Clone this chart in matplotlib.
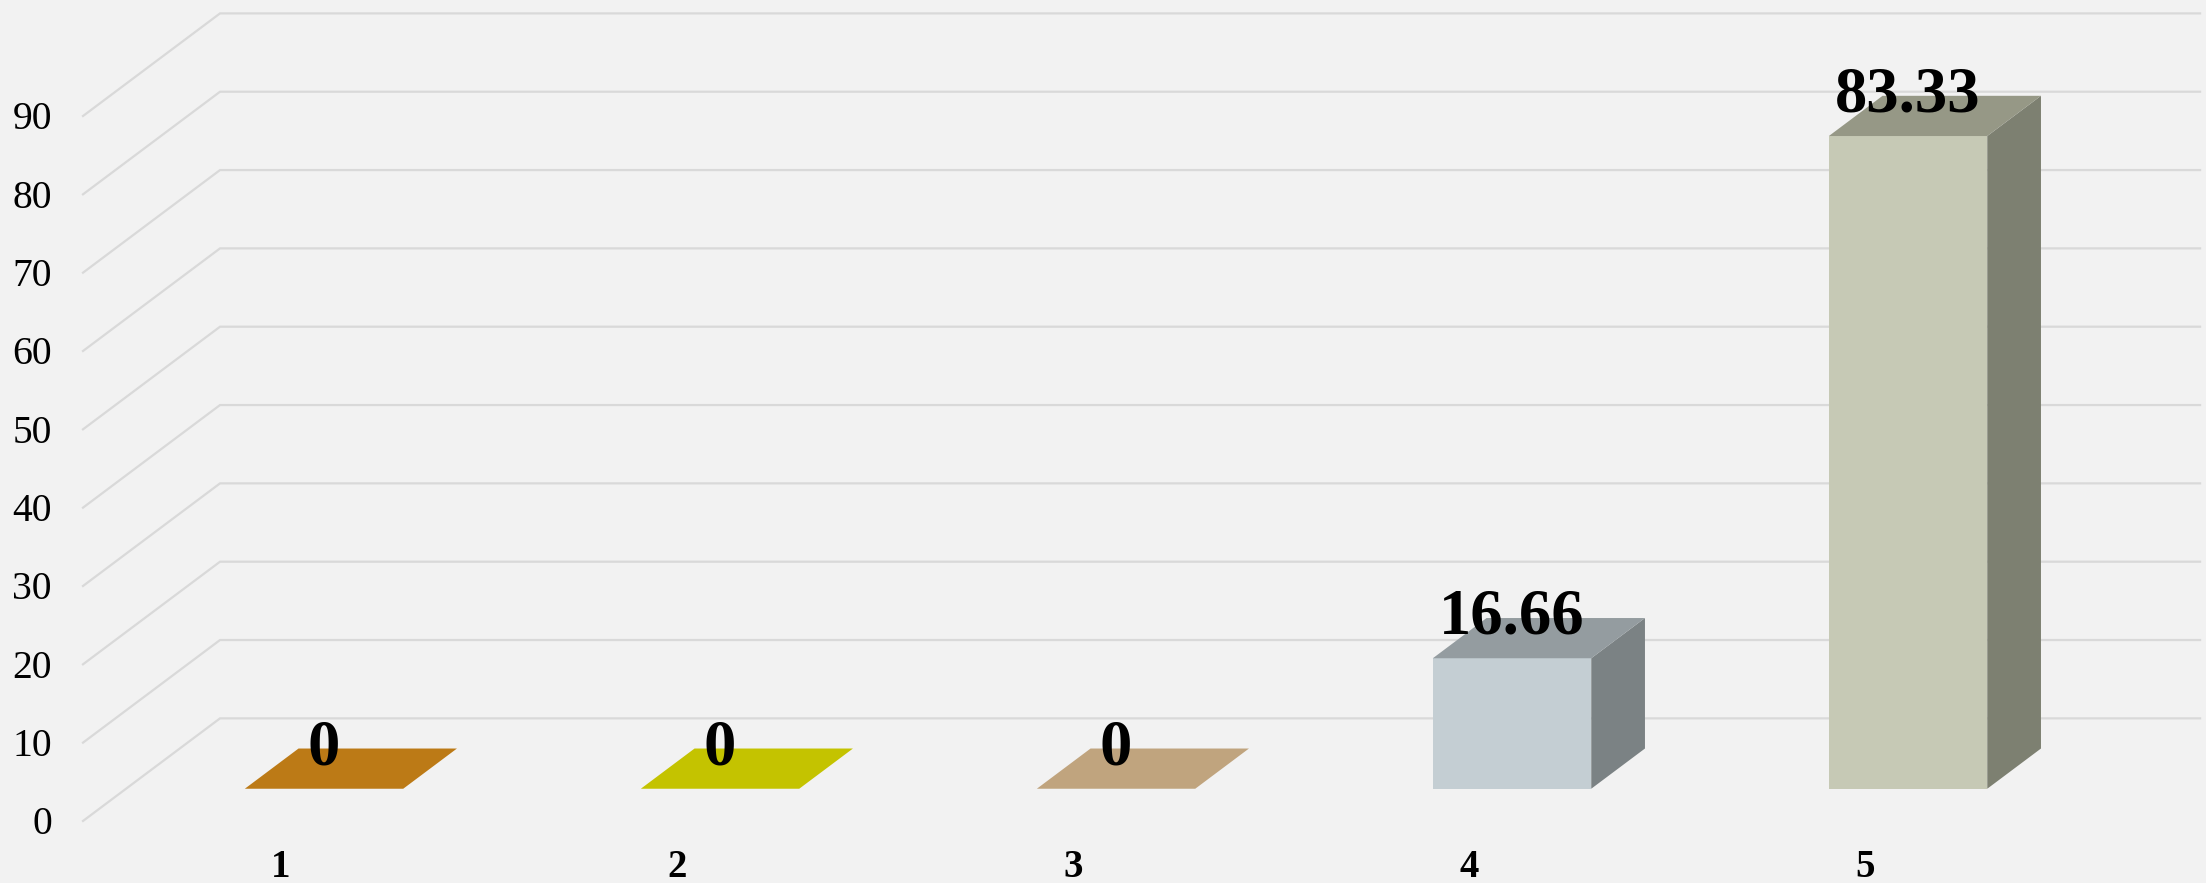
import matplotlib.pyplot as plt
from matplotlib.patches import Polygon

# Data
categories = ["1", "2", "3", "4", "5"]
values = [0, 0, 0, 16.66, 83.33]
value_labels = ["0", "0", "0", "16.66", "83.33"]
yticks = [0, 10, 20, 30, 40, 50, 60, 70, 80, 90]

# Colours (front, top, side)
front_colors = ["#BC7A16", "#C4C300", "#C0A47E", "#C4CED3", "#C6C9B5"]
top_colors = ["#BC7A16", "#C4C300", "#C0A47E", "#949CA0", "#969886"]
side_colors = ["#8A5A10", "#909000", "#8E795C", "#7B8284", "#7D8071"]

# Fake 3D projection: depth d in [0, 1] shifts points right and up
DX = 0.346
DY = 13.1
bar_w = 0.4
d_front, d_back = 0.314, 0.706


def proj(c, v, d):
    return (c + d * DX, v + d * DY)


plt.rcParams['font.family'] = ['Liberation Serif', 'DejaVu Serif']

fig = plt.figure(figsize=(22.06, 8.83), dpi=100)
fig.patch.set_facecolor("#F2F2F2")
ax = fig.add_axes([0, 0, 1, 1])
ax.set_facecolor("#F2F2F2")
ax.set_xlim(0.2904, 5.861)
ax.set_ylim(-7.92, 104.81)
ax.axis("off")

# Walls: diagonal on the side wall + horizontal line on the back wall
left, right = 0.5, 5.5
for v in yticks:
    x0, y0 = proj(left, v, 0)
    x1, y1 = proj(left, v, 1)
    x2, y2 = proj(right, v, 1)
    ax.plot([x0, x1, x2], [y0, y1, y2], color="#D9D9D9", lw=1.6,
            solid_joinstyle="miter", zorder=1)
    ax.text(0.4217, v - 1.7, str(v), ha="right", va="baseline",
            fontsize=28.5, color="black")

# Bars
for i, (cat, val) in enumerate(zip(categories, values)):
    c = i + 1
    l, r = c - bar_w / 2, c + bar_w / 2
    top = [proj(l, val, d_front), proj(r, val, d_front),
           proj(r, val, d_back), proj(l, val, d_back)]
    if val > 0:
        front = [proj(l, 0, d_front), proj(r, 0, d_front),
                 proj(r, val, d_front), proj(l, val, d_front)]
        side = [proj(r, 0, d_front), proj(r, 0, d_back),
                proj(r, val, d_back), proj(r, val, d_front)]
        ax.add_patch(Polygon(side, closed=True, facecolor=side_colors[i],
                             edgecolor="none", zorder=3))
        ax.add_patch(Polygon(front, closed=True, facecolor=front_colors[i],
                             edgecolor="none", zorder=3))
    ax.add_patch(Polygon(top, closed=True, facecolor=top_colors[i],
                         edgecolor="none", zorder=3))

    lx, ly = proj(c, val, d_front)
    ax.text(lx, ly + 3.1, value_labels[i], ha="center", va="baseline",
            fontsize=46.5, fontweight="bold", color="black", zorder=5)

    ax.text(c, -7.2, cat, ha="center", va="baseline", fontsize=28,
            fontweight="bold", color="black")

fig.savefig("out.png", dpi=100, facecolor=fig.get_facecolor())
